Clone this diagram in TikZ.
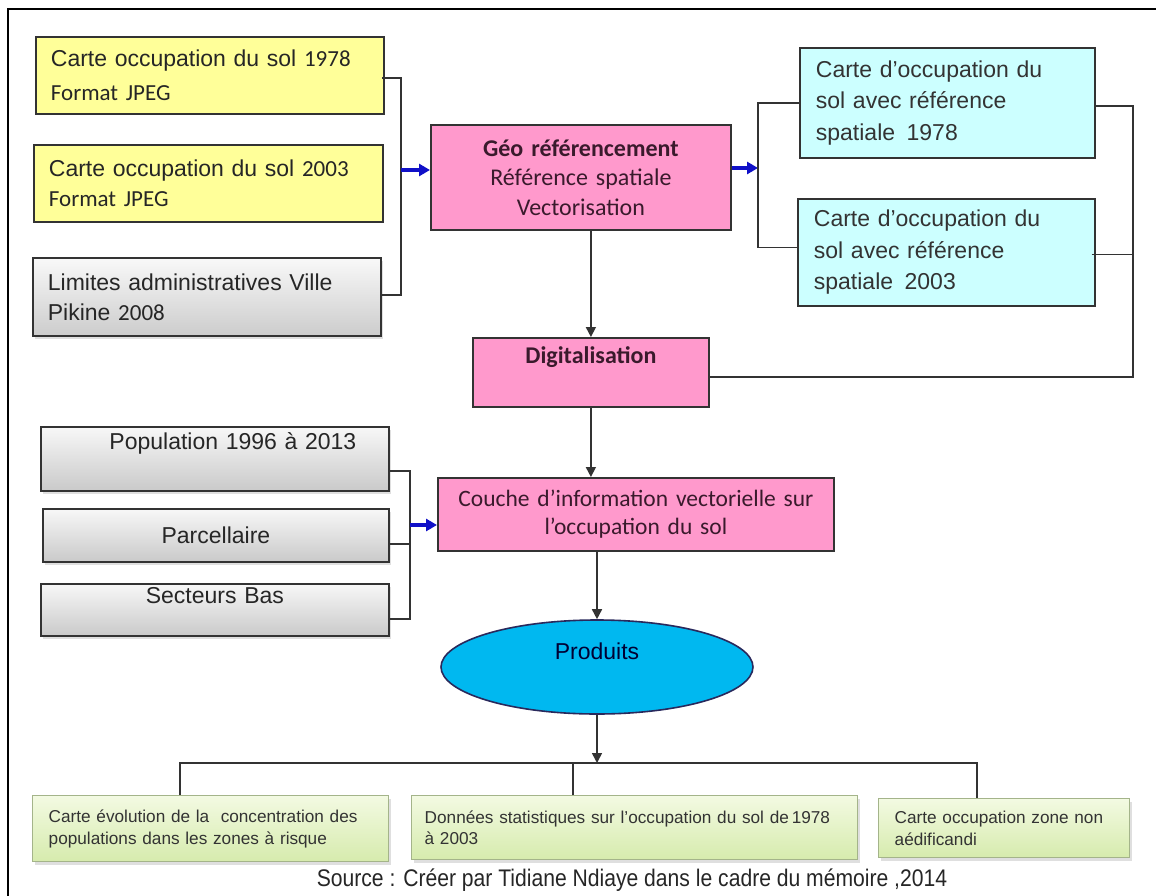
\documentclass[tikz,border=0pt]{standalone}
\usepackage{fontspec}
\setmainfont{Liberation Sans}
\newfontfamily\calibri{Carlito}
\newfontfamily\narrowsans[FakeStretch=0.88]{Liberation Sans}
\usetikzlibrary{calc,arrows.meta,shadows,shapes.geometric}

\definecolor{boxyellow}{HTML}{FFFF99}
\definecolor{boxpink}{HTML}{FF99CC}
\definecolor{boxcyan}{HTML}{CCFFFF}
\definecolor{prodblue}{HTML}{00B8F0}
\definecolor{linecol}{HTML}{333333}
\definecolor{plumtext}{HTML}{3A1A2C}
\definecolor{greentop}{HTML}{F3FAE2}
\definecolor{greenbot}{HTML}{D6EBAD}
\definecolor{greenedge}{HTML}{A4B48A}
\definecolor{arrowblue}{HTML}{1010C8}

\begin{document}
\begin{tikzpicture}[x=1pt,y=-1pt,
  box/.style={draw=linecol, line width=1.8pt, inner xsep=15pt, inner ysep=0pt,
    anchor=north west, text=black!85},
  ybox/.style={box, fill=boxyellow, align=left},
  pbox/.style={box, fill=boxpink, align=center, text=plumtext},
  cbox/.style={box, fill=boxcyan, align=left, inner xsep=16pt, text=black!80},
  gbox/.style={box, top color=gray!6, bottom color=gray!42, align=center,
    drop shadow={shadow xshift=2pt, shadow yshift=-3pt, opacity=0.25}},
  grbox/.style={draw=greenedge, line width=1.4pt, inner xsep=16pt, inner ysep=0pt,
    anchor=north west, top color=greentop, bottom color=greenbot, align=left,
    text=black!80, font=\fontsize{17.2}{21.5}\selectfont,
    drop shadow={shadow xshift=2pt, shadow yshift=-3pt, opacity=0.25}},
  conn/.style={draw=linecol, line width=1.6pt},
  darrow/.style={conn, -{Triangle[length=10pt,width=10pt]}},
  barrow/.style={draw=arrowblue, line width=3.5pt, -{Triangle[length=11pt,width=12pt]}}
]
\useasboundingbox (0,0) rectangle (1156,896);
\clip (0,0) rectangle (1156,896);
\fill[white] (0,0) rectangle (1156,896);

% outer frame
\draw[line width=2.6pt, black] (8,9) rectangle (1180,920);

% source maps
\node[ybox, text width=318pt, minimum width=348pt, minimum height=77pt,
  font=\fontsize{23}{34}\selectfont] (y1) at (35,36)
  {Carte occupation du sol {\calibri 1978}\\{\calibri Format JPEG}};
\node[ybox, text width=319pt, minimum width=349pt, minimum height=77pt,
  font=\fontsize{23}{30}\selectfont] (y2) at (33,144)
  {Carte occupation du sol {\calibri 2003}\\{\calibri Format JPEG}};
\node[box, top color=gray!5, bottom color=gray!40, align=left,
  text width=318pt, minimum width=348pt, minimum height=78pt,
  font=\fontsize{23}{30}\selectfont,
  drop shadow={shadow xshift=2pt, shadow yshift=-3pt, opacity=0.25}] (lim) at (32,257)
  {Limites administratives Ville\\Pikine {\calibri 2008}};

% processing steps
\node[pbox, text width=270pt, minimum width=300pt, minimum height=105pt,
  font=\calibri\fontsize{24}{29.5}\selectfont] (geo) at (430,124)
  {{\bfseries Géo référencement}\\Référence spatiale\\Vectorisation};
\node[pbox, text width=206pt, minimum width=236pt, minimum height=69pt,
  font=\calibri\fontsize{24}{26}\selectfont] (digit) at (472,337)
  {{\bfseries Digitalisation}\\\strut};
\node[pbox, inner xsep=6pt, text width=384pt, minimum width=396pt, minimum height=73pt,
  font=\calibri\fontsize{23.5}{28}\selectfont] (couche) at (437,477)
  {Couche d’information vectorielle sur\\l’occupation du sol};

% georeferenced maps
\node[cbox, text width=263pt, minimum width=295pt, minimum height=110pt,
  font=\fontsize{23}{31.5}\selectfont] (c1) at (799,47)
  {Carte d’occupation du\\sol avec référence\\spatiale\, 1978};
\node[cbox, text width=265pt, minimum width=297pt, minimum height=107pt,
  font=\fontsize{23}{31.5}\selectfont] (c2) at (797,198)
  {Carte d’occupation du\\sol avec référence\\spatiale\, 2003};

% additional data
\node[gbox, text width=318pt, minimum width=348pt, minimum height=64pt,
  font=\fontsize{23}{28}\selectfont] (pop) at (40,426)
  {\hspace*{36pt}Population 1996 à 2013\\\strut};
\node[gbox, text width=316pt, minimum width=346pt, minimum height=53pt,
  font=\fontsize{23}{28}\selectfont] (parc) at (42,508) {Parcellaire};
\node[gbox, text width=318pt, minimum width=348pt, minimum height=52pt,
  font=\fontsize{23}{22}\selectfont] (sect) at (40,583)
  {Secteurs Bas\\\strut};

% products
\node[ellipse, draw=linecol!80!blue, line width=1.6pt, fill=prodblue,
  minimum width=312pt, minimum height=94pt, inner sep=0pt, align=center,
  text=black!80!blue, font=\fontsize{23}{24}\selectfont] (prod) at (597,667)
  {Produits\\\strut};

\node[grbox, text width=324pt, minimum width=356pt, minimum height=66pt] (gr1) at (32,795)
  {Carte évolution de la\ \ concentration des\\populations dans les\ zones à risque};
\node[grbox, inner xsep=13pt, text width=420pt, minimum width=446pt, minimum height=64pt] (gr2) at (411,795)
  {Données statistiques sur l’occupation du sol de\,1978\\à 2003};
\node[grbox, text width=219pt, minimum width=251pt, minimum height=59pt] (gr3) at (878,798)
  {Carte occupation zone non\\aédificandi};

\node[font=\narrowsans\fontsize{24}{28}\selectfont, text=black!85] (src) at (632,880)
  {Source : Créer par Tidiane Ndiaye dans le cadre du mémoire ,2014};

% junction points
\coordinate (jl) at (401,170);
\coordinate (jr) at (758,168);
\coordinate (je) at (1133,377);
\coordinate (jg) at (410,525);
\coordinate (jb) at (597,763);
\coordinate (jb1) at (180,763);
\coordinate (jb2) at (573,763);
\coordinate (jb3) at (977,763);
\coordinate (y1r) at ($(y1.east)+(-3,2.5)$);
\coordinate (limr) at ($(lim.east)+(0,-2)$);
\coordinate (c1r) at ($(c1.east)+(0,3)$);
\coordinate (c2r) at ($(c2.east)+(-4,2)$);
\coordinate (c2l) at ($(c2.west)+(0,-5)$);
\coordinate (popr) at ($(pop.east)+(0,12)$);
\coordinate (parcr) at ($(parc.east)+(0,8.5)$);
\coordinate (sectr) at ($(sect.east)+(0,9)$);

% inputs to georeferencing
\draw[conn] (y1r) -| (jl) |- (limr);
\draw[barrow] (jl) -- (geo.west |- jl);

% georeferencing outputs
\draw[barrow] (geo.east |- jr) -- (jr);
\draw[conn] (c1.west) -| (jr) |- (c2l);
\draw[conn] (c1r) -| (je) -- (digit.east |- je);
\draw[conn] (c2r) -- (c2r -| je);

% main chain
\draw[darrow] (digit.north |- geo.south) -- (digit.north);
\draw[darrow] (digit.south) -- (digit.south |- couche.north);
\draw[conn] (popr) -| (jg) |- (parcr);
\draw[conn] (jg) |- (sectr);
\draw[barrow] (jg) -- (couche.west |- jg);
\draw[darrow] (prod.north |- couche.south) -- (prod.north);
\draw[darrow] (prod.south) -- (jb);

% distribution to products
\draw[conn] (gr1.north -| jb1) -- (jb1) -- (jb3) -- (gr3.north -| jb3);
\draw[conn] (jb2) -- (gr2.north -| jb2);
\end{tikzpicture}
\end{document}
